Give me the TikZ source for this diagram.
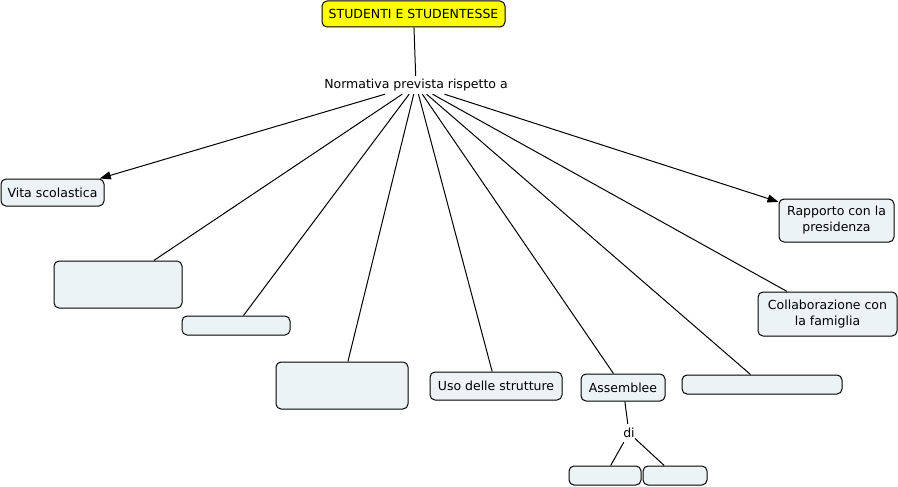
\documentclass[tikz,border=0pt]{standalone}
\usepackage{fontspec}
\setmainfont{DejaVu Sans}
\usepackage{tikz}
\usetikzlibrary{
    arrows.meta,
    positioning
}
\usepackage{xcolor}
\definecolor{conceptfill}{HTML}{EBF3F5}
\definecolor{rootfill}{HTML}{FFFF00}

\begin{document}
\begin{tikzpicture}[
        x=1pt, y=-1pt,
        >={Triangle[length=11pt,width=8pt]},
        every node/.style={
            font=\fontsize{12.5}{16}\selectfont,
            align=center
        },
        concept/.style={
            rectangle,
            rounded corners=5pt,
            draw,
            line width=1pt,
            fill=conceptfill,
            inner sep=0pt
        },
        rootconcept/.style={
            concept,
            fill=rootfill
        },
        phrase/.style={
            inner sep=0pt,
            minimum height=18pt
        },
        link/.style={
            line width=1pt
        }
    ]
        \useasboundingbox[fill=white] (0,0) rectangle (898,487);

        \node[rootconcept, minimum width=183pt, minimum height=26pt]
            (studenti) at (413.5,14) {STUDENTI E STUDENTESSE};
        \node[phrase] (normativa) at (416,85) {Normativa prevista rispetto a};

        \node[concept, minimum width=103pt, minimum height=27pt]
            (vita) at (52.5,192.5) {Vita scolastica};
        \node[concept, minimum width=128pt, minimum height=47pt]
            (vuotoA) at (118,284.5) {};
        \node[concept, minimum width=108pt, minimum height=19pt]
            (vuotoB) at (236,325.5) {};
        \node[concept, minimum width=132pt, minimum height=47pt]
            (vuotoC) at (342,385.5) {};
        \node[concept, minimum width=132pt, minimum height=28pt]
            (strutture) at (496,386) {Uso delle strutture};
        \node[concept, minimum width=84pt, minimum height=27pt]
            (assemblee) at (623,387.5) {Assemblee};
        \node[concept, minimum width=160pt, minimum height=19pt]
            (vuotoD) at (762,384.5) {};
        \node[concept, minimum width=139pt, minimum height=44pt]
            (famiglia) at (827.5,314) {Collaborazione con\\la famiglia};
        \node[concept, minimum width=115pt, minimum height=43pt]
            (presidenza) at (836.5,220.5) {Rapporto con la\\presidenza};

        \node[phrase] (di) at (629,433) {di};
        \node[concept, minimum width=72pt, minimum height=19pt]
            (vuotoE) at (605,475.5) {};
        \node[concept, minimum width=64pt, minimum height=19pt]
            (vuotoF) at (675,475.5) {};

        % collegamenti
        \draw[link] (studenti) -- (normativa);
        \draw[link, ->] (normativa) -- (vita);
        \draw[link] (normativa) -- (vuotoA);
        \draw[link] (normativa) -- (vuotoB);
        \draw[link] (normativa) -- (vuotoC);
        \draw[link] (normativa) -- (strutture);
        \draw[link] (normativa) -- (assemblee);
        \draw[link] (normativa) -- (vuotoD);
        \draw[link] (normativa) -- (famiglia);
        \draw[link, ->] (normativa) -- (presidenza);

        \draw[link] (assemblee) -- (di);
        \draw[link] (di) -- (vuotoE);
        \draw[link] (di) -- (vuotoF);
    \end{tikzpicture}
\end{document}
